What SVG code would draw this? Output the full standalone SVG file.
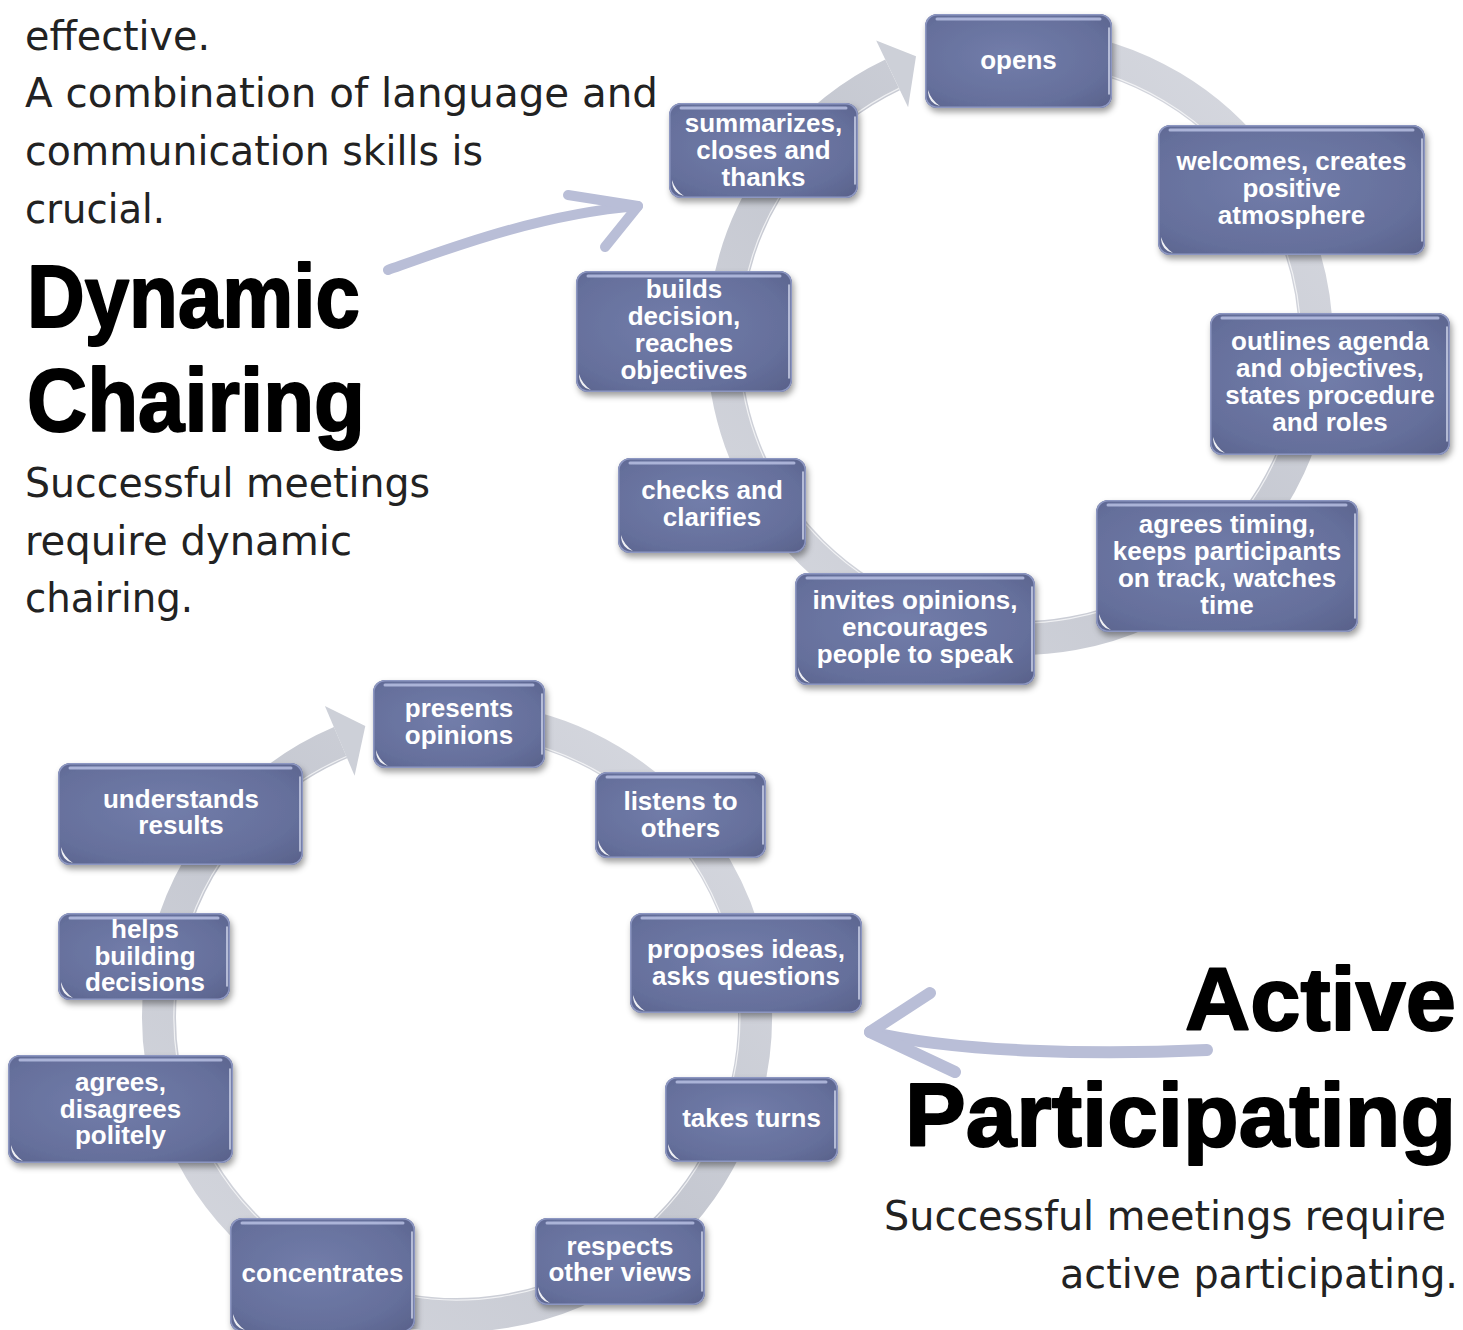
<svg xmlns="http://www.w3.org/2000/svg" width="1463" height="1330" viewBox="0 0 1463 1330">
  <defs>
    <radialGradient id="boxFill" cx="0.45" cy="0.45" r="0.75">
      <stop offset="0" stop-color="#727daa"/>
      <stop offset="0.7" stop-color="#656f9b"/>
      <stop offset="1" stop-color="#59628b"/>
    </radialGradient>
    <filter id="drop" x="-10%" y="-10%" width="125%" height="135%">
      <feDropShadow dx="2" dy="4" stdDeviation="3" flood-color="#000" flood-opacity="0.38"/>
    </filter>
    <linearGradient id="ringTop" gradientUnits="userSpaceOnUse" x1="1300" y1="60" x2="720" y2="640">
      <stop offset="0" stop-color="#d8dae1"/>
      <stop offset="0.5" stop-color="#c4c7d0"/>
      <stop offset="1" stop-color="#d6d8df"/>
    </linearGradient>
    <linearGradient id="ringBot" gradientUnits="userSpaceOnUse" x1="740" y1="720" x2="170" y2="1320">
      <stop offset="0" stop-color="#d8dae1"/>
      <stop offset="0.5" stop-color="#c4c7d0"/>
      <stop offset="1" stop-color="#d6d8df"/>
    </linearGradient>
  </defs>
  <style>
    .box { fill: url(#boxFill); filter: url(#drop); }
    .rim { fill: none; stroke: #8d97c2; stroke-width: 1.5; }
    .hl { fill: none; stroke: #c3cbec; stroke-width: 3; stroke-linecap: round; opacity: 0.75; }
    .hr { fill: none; stroke: #e4e8fa; stroke-width: 1.6; stroke-linecap: round; opacity: 0.8; }
    .glint { fill: #ffffff; opacity: 0.9; }
    .lbl { font-family: "Liberation Sans", Arial, sans-serif; font-weight: 700; font-size: 26px; fill: #ffffff; text-anchor: middle; }
    .band { fill: none; stroke-width: 34; }
    .edge { fill: none; stroke: #ffffff; stroke-width: 1.2; opacity: 0.7; }
    .sketch { fill: none; stroke: #b9bed7; stroke-linecap: round; stroke-linejoin: round; }
    .body { font-family: "DejaVu Sans", "Liberation Sans", sans-serif; font-size: 40px; fill: #222222; }
    .title { font-family: "Liberation Sans", Arial, sans-serif; font-weight: 700; font-size: 89px; fill: #000000; stroke: #000000; stroke-width: 2; stroke-linejoin: round; }
  </style>

  <rect width="1463" height="1330" fill="#ffffff"/>

  <!-- connectors: the two cycle arrows and the sketched pointers -->
  <g id="connectors">
    <g id="cycle-chairing">
      <path class="band" stroke="url(#ringTop)" d="M 1045.8 47.1 A 296 296 0 1 1 892.6 74.8"/>
      <path class="edge" d="M 1044.5 62.1 A 281 281 0 1 1 899 88.4"/>
      <polygon fill="#cdd0d8" points="876.2,40.5 916,56.3 908.1,107.3"/>
    </g>
    <g id="cycle-participating">
      <path class="band" stroke="url(#ringBot)" d="M 483 720.1 A 298 298 0 1 1 340.6 742.7"/>
      <path class="edge" d="M 481.7 735.1 A 283 283 0 1 1 346.4 756.5"/>
      <polygon fill="#cdd0d8" points="324.9,705.9 365.3,726.1 354.6,775.8"/>
    </g>
    <g id="pointer-chairing">
      <path class="sketch" stroke-width="10" d="M 388 270 C 450 248 540 214 638 206"/>
      <path class="sketch" stroke-width="10" d="M 568 195 L 638 206 L 605 247"/>
    </g>
    <g id="pointer-participating">
      <path class="sketch" stroke-width="12" d="M 1207 1050 C 1100 1055 960 1053 870 1032"/>
      <path class="sketch" stroke-width="12" d="M 930 993 L 870 1032 L 955 1072"/>
    </g>
  </g>

  <!-- chairing cycle nodes -->
  <g id="node-opens" transform="translate(925,14)">
    <rect class="box" width="187" height="94" rx="12"/>
    <rect class="rim" x="0.75" y="0.75" width="185.5" height="92.5" rx="11.5"/>
    <path class="hl" d="M 12 5 H 175"/>
    <path class="hr" d="M 184 14 V 80"/>
    <path class="glint" d="M 3 76 Q 3 89 15 92 Q 6 86 3 76 Z"/>
    <text class="lbl" x="93.5" y="55">opens</text>
  </g>
  <g id="node-welcomes" transform="translate(1158,125)">
    <rect class="box" width="267" height="130" rx="12"/>
    <rect class="rim" x="0.75" y="0.75" width="265.5" height="128.5" rx="11.5"/>
    <path class="hl" d="M 12 5 H 255"/>
    <path class="hr" d="M 264 14 V 116"/>
    <path class="glint" d="M 3 112 Q 3 125 15 128 Q 6 122 3 112 Z"/>
    <text class="lbl" x="133.5" y="45">welcomes, creates</text>
    <text class="lbl" x="133.5" y="72">positive</text>
    <text class="lbl" x="133.5" y="99">atmosphere</text>
  </g>
  <g id="node-outlines" transform="translate(1210,313)">
    <rect class="box" width="240" height="142" rx="12"/>
    <rect class="rim" x="0.75" y="0.75" width="238.5" height="140.5" rx="11.5"/>
    <path class="hl" d="M 12 5 H 228"/>
    <path class="hr" d="M 237 14 V 128"/>
    <path class="glint" d="M 3 124 Q 3 137 15 140 Q 6 134 3 124 Z"/>
    <text class="lbl" x="120" y="37">outlines agenda</text>
    <text class="lbl" x="120" y="64">and objectives,</text>
    <text class="lbl" x="120" y="91">states procedure</text>
    <text class="lbl" x="120" y="118">and roles</text>
  </g>
  <g id="node-timing" transform="translate(1096,500)">
    <rect class="box" width="262" height="132" rx="12"/>
    <rect class="rim" x="0.75" y="0.75" width="260.5" height="130.5" rx="11.5"/>
    <path class="hl" d="M 12 5 H 250"/>
    <path class="hr" d="M 259 14 V 118"/>
    <path class="glint" d="M 3 114 Q 3 127 15 130 Q 6 124 3 114 Z"/>
    <text class="lbl" x="131" y="33">agrees timing,</text>
    <text class="lbl" x="131" y="60">keeps  participants</text>
    <text class="lbl" x="131" y="87">on track, watches</text>
    <text class="lbl" x="131" y="114">time</text>
  </g>
  <g id="node-invites" transform="translate(795,573)">
    <rect class="box" width="240" height="112" rx="12"/>
    <rect class="rim" x="0.75" y="0.75" width="238.5" height="110.5" rx="11.5"/>
    <path class="hl" d="M 12 5 H 228"/>
    <path class="hr" d="M 237 14 V 98"/>
    <path class="glint" d="M 3 94 Q 3 107 15 110 Q 6 104 3 94 Z"/>
    <text class="lbl" x="120" y="36">invites opinions,</text>
    <text class="lbl" x="120" y="63">encourages</text>
    <text class="lbl" x="120" y="90">people to speak</text>
  </g>
  <g id="node-checks" transform="translate(618,458)">
    <rect class="box" width="188" height="95" rx="12"/>
    <rect class="rim" x="0.75" y="0.75" width="186.5" height="93.5" rx="11.5"/>
    <path class="hl" d="M 12 5 H 176"/>
    <path class="hr" d="M 185 14 V 81"/>
    <path class="glint" d="M 3 77 Q 3 90 15 93 Q 6 87 3 77 Z"/>
    <text class="lbl" x="94" y="41">checks and</text>
    <text class="lbl" x="94" y="68">clarifies</text>
  </g>
  <g id="node-builds" transform="translate(576,271)">
    <rect class="box" width="216" height="121" rx="12"/>
    <rect class="rim" x="0.75" y="0.75" width="214.5" height="119.5" rx="11.5"/>
    <path class="hl" d="M 12 5 H 204"/>
    <path class="hr" d="M 213 14 V 107"/>
    <path class="glint" d="M 3 103 Q 3 116 15 119 Q 6 113 3 103 Z"/>
    <text class="lbl" x="108" y="27">builds</text>
    <text class="lbl" x="108" y="54">decision,</text>
    <text class="lbl" x="108" y="81">reaches</text>
    <text class="lbl" x="108" y="108">objectives</text>
  </g>
  <g id="node-summarizes" transform="translate(669,103)">
    <rect class="box" width="189" height="95" rx="12"/>
    <rect class="rim" x="0.75" y="0.75" width="187.5" height="93.5" rx="11.5"/>
    <path class="hl" d="M 12 5 H 177"/>
    <path class="hr" d="M 186 14 V 81"/>
    <path class="glint" d="M 3 77 Q 3 90 15 93 Q 6 87 3 77 Z"/>
    <text class="lbl" x="94.5" y="29">summarizes,</text>
    <text class="lbl" x="94.5" y="56">closes and</text>
    <text class="lbl" x="94.5" y="83">thanks</text>
  </g>

  <!-- participating cycle nodes -->
  <g id="node-presents" transform="translate(373,680)">
    <rect class="box" width="172" height="88" rx="12"/>
    <rect class="rim" x="0.75" y="0.75" width="170.5" height="86.5" rx="11.5"/>
    <path class="hl" d="M 12 5 H 160"/>
    <path class="hr" d="M 169 14 V 74"/>
    <path class="glint" d="M 3 70 Q 3 83 15 86 Q 6 80 3 70 Z"/>
    <text class="lbl" x="86" y="37">presents</text>
    <text class="lbl" x="86" y="64">opinions</text>
  </g>
  <g id="node-listens" transform="translate(595,772)">
    <rect class="box" width="171" height="86" rx="12"/>
    <rect class="rim" x="0.75" y="0.75" width="169.5" height="84.5" rx="11.5"/>
    <path class="hl" d="M 12 5 H 159"/>
    <path class="hr" d="M 168 14 V 72"/>
    <path class="glint" d="M 3 68 Q 3 81 15 84 Q 6 78 3 68 Z"/>
    <text class="lbl" x="85.5" y="38">listens to</text>
    <text class="lbl" x="85.5" y="65">others</text>
  </g>
  <g id="node-proposes" transform="translate(630,913)">
    <rect class="box" width="232" height="100" rx="12"/>
    <rect class="rim" x="0.75" y="0.75" width="230.5" height="98.5" rx="11.5"/>
    <path class="hl" d="M 12 5 H 220"/>
    <path class="hr" d="M 229 14 V 86"/>
    <path class="glint" d="M 3 82 Q 3 95 15 98 Q 6 92 3 82 Z"/>
    <text class="lbl" x="116" y="45">proposes ideas,</text>
    <text class="lbl" x="116" y="72">asks questions</text>
  </g>
  <g id="node-turns" transform="translate(665,1077)">
    <rect class="box" width="173" height="85" rx="12"/>
    <rect class="rim" x="0.75" y="0.75" width="171.5" height="83.5" rx="11.5"/>
    <path class="hl" d="M 12 5 H 161"/>
    <path class="hr" d="M 170 14 V 71"/>
    <path class="glint" d="M 3 67 Q 3 80 15 83 Q 6 77 3 67 Z"/>
    <text class="lbl" x="86.5" y="50">takes turns</text>
  </g>
  <g id="node-respects" transform="translate(535,1218)">
    <rect class="box" width="170" height="87" rx="12"/>
    <rect class="rim" x="0.75" y="0.75" width="168.5" height="85.5" rx="11.5"/>
    <path class="hl" d="M 12 5 H 158"/>
    <path class="hr" d="M 167 14 V 73"/>
    <path class="glint" d="M 3 69 Q 3 82 15 85 Q 6 79 3 69 Z"/>
    <text class="lbl" x="85" y="37">respects</text>
    <text class="lbl" x="85" y="63">other views</text>
  </g>
  <g id="node-concentrates" transform="translate(230,1218)">
    <rect class="box" width="185" height="114" rx="12"/>
    <rect class="rim" x="0.75" y="0.75" width="183.5" height="112.5" rx="11.5"/>
    <path class="hl" d="M 12 5 H 173"/>
    <path class="hr" d="M 182 14 V 100"/>
    <path class="glint" d="M 3 96 Q 3 109 15 112 Q 6 106 3 96 Z"/>
    <text class="lbl" x="92.5" y="64">concentrates</text>
  </g>
  <g id="node-agrees" transform="translate(8,1055)">
    <rect class="box" width="225" height="108" rx="12"/>
    <rect class="rim" x="0.75" y="0.75" width="223.5" height="106.5" rx="11.5"/>
    <path class="hl" d="M 12 5 H 213"/>
    <path class="hr" d="M 222 14 V 94"/>
    <path class="glint" d="M 3 90 Q 3 103 15 106 Q 6 100 3 90 Z"/>
    <text class="lbl" x="112.5" y="36">agrees,</text>
    <text class="lbl" x="112.5" y="63">disagrees</text>
    <text class="lbl" x="112.5" y="89">politely</text>
  </g>
  <g id="node-helps" transform="translate(58,913)">
    <rect class="box" width="172" height="87" rx="12"/>
    <rect class="rim" x="0.75" y="0.75" width="170.5" height="85.5" rx="11.5"/>
    <path class="hl" d="M 12 5 H 160"/>
    <path class="hr" d="M 169 14 V 73"/>
    <path class="glint" d="M 3 69 Q 3 82 15 85 Q 6 79 3 69 Z"/>
    <text class="lbl" x="87" y="25">helps</text>
    <text class="lbl" x="87" y="52">building</text>
    <text class="lbl" x="87" y="78">decisions</text>
  </g>
  <g id="node-understands" transform="translate(58,763)">
    <rect class="box" width="245" height="102" rx="12"/>
    <rect class="rim" x="0.75" y="0.75" width="243.5" height="100.5" rx="11.5"/>
    <path class="hl" d="M 12 5 H 233"/>
    <path class="hr" d="M 242 14 V 88"/>
    <path class="glint" d="M 3 84 Q 3 97 15 100 Q 6 94 3 84 Z"/>
    <text class="lbl" x="123" y="45">understands</text>
    <text class="lbl" x="123" y="71">results</text>
  </g>

  <!-- headings and explanatory copy -->
  <g id="copy-chairing">
    <text class="body" x="25" y="50" textLength="185" lengthAdjust="spacingAndGlyphs">effective.</text>
    <text class="body" x="25" y="107" textLength="633" lengthAdjust="spacingAndGlyphs">A combination of language and</text>
    <text class="body" x="25" y="165" textLength="458" lengthAdjust="spacingAndGlyphs">communication skills is</text>
    <text class="body" x="25" y="223" textLength="140" lengthAdjust="spacingAndGlyphs">crucial.</text>
    <text class="title" x="27" y="327" textLength="333" lengthAdjust="spacingAndGlyphs">Dynamic</text>
    <text class="title" x="27" y="431" textLength="338" lengthAdjust="spacingAndGlyphs">Chairing</text>
    <text class="body" x="25" y="497" textLength="405" lengthAdjust="spacingAndGlyphs">Successful meetings</text>
    <text class="body" x="25" y="555" textLength="327" lengthAdjust="spacingAndGlyphs">require dynamic</text>
    <text class="body" x="25" y="612" textLength="168" lengthAdjust="spacingAndGlyphs">chairing.</text>
  </g>
  <g id="copy-participating">
    <text class="title" x="1185" y="1030" textLength="271" lengthAdjust="spacingAndGlyphs">Active</text>
    <text class="title" x="905" y="1146" textLength="551" lengthAdjust="spacingAndGlyphs">Participating</text>
    <text class="body" x="884" y="1230" textLength="562" lengthAdjust="spacingAndGlyphs">Successful meetings require</text>
    <text class="body" x="1060" y="1288" textLength="398" lengthAdjust="spacingAndGlyphs">active participating.</text>
  </g>
</svg>
